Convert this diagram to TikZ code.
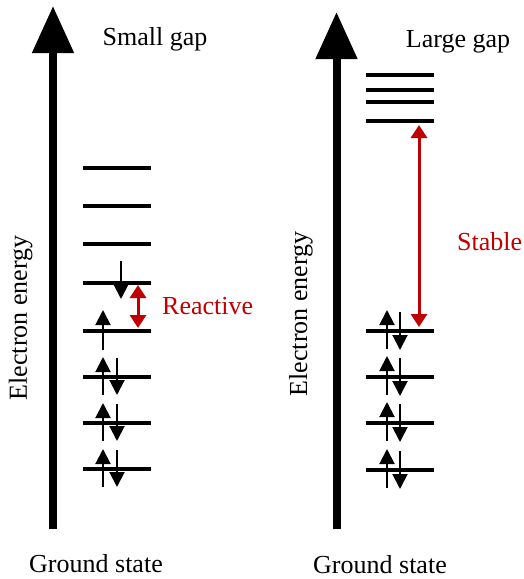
\documentclass[tikz,border=0pt]{standalone}
\usepackage{fontspec}
\setmainfont{Liberation Serif}
\usetikzlibrary{arrows.meta}
\definecolor{gapred}{HTML}{C00000}
\begin{document}
\begin{tikzpicture}[x=1pt,y=-1pt,
  level/.style={line width=3.5pt},
  axis/.style={line width=8pt,-{Triangle[width=40pt,length=47pt]}},
  spin/.style={line width=2pt,-{Triangle[width=15pt,length=15pt]}},
  gaparrow/.style={gapred,line width=3pt,
    {Triangle[width=16pt,length=13pt]}-{Triangle[width=16pt,length=13pt]}},
  lbl/.style={font=\fontsize{26}{30}\selectfont,inner sep=0pt}]
\useasboundingbox (0,0) rectangle (524,579);

% energy axes
\coordinate (axLb) at (53,529);
\coordinate (axLt) at (53,6);
\coordinate (axRb) at (336.5,529);
\coordinate (axRt) at (336.5,12);
\draw[axis] (axLb) -- (axLt);
\draw[axis] (axRb) -- (axRt);

% axis labels
\node[lbl,anchor=base] (titleL) at (155,45) {Small gap};
\node[lbl,anchor=base] (titleR) at (458,47) {Large gap};
\node[lbl,anchor=base] (groundL) at (96,572) {Ground state};
\node[lbl,anchor=base] (groundR) at (380,573.5) {Ground state};
\node[lbl,anchor=base,rotate=90] (energyL) at (27,318) {Electron energy};
\node[lbl,anchor=base,rotate=90] (energyR) at (307,314) {Electron energy};

% small-gap levels
\foreach \n/\y in {1/469,2/423,3/377,4/331,5/283,6/244,7/206,8/168}{
  \coordinate (sa\n) at (83,\y);
  \coordinate (sb\n) at (151,\y);
  \draw[level] (sa\n) -- (sb\n);
}
% large-gap levels
\foreach \n/\y in {1/470,2/423,3/377,4/331,5/121,6/102,7/90,8/75}{
  \coordinate (la\n) at (366,\y);
  \coordinate (lb\n) at (434,\y);
  \draw[level] (la\n) -- (lb\n);
}

% paired electrons
\foreach \y in {377,423,469}{
  \draw[spin] (103,\y+18) -- (103,\y-20);
  \draw[spin] (117,\y-19) -- (117,\y+18);
}
\foreach \y in {331,377,423,470}{
  \draw[spin] (387,\y+18) -- (387,\y-21);
  \draw[spin] (400,\y-19) -- (400,\y+19);
}
% unpaired electrons across the small gap
\draw[spin] (103,350) -- (103,310);
\draw[spin] (121,261) -- (121,299);

% gap arrows
\coordinate (gsTop) at (138,285);
\coordinate (gsBot) at (138,328);
\draw[gaparrow] (gsTop) -- (gsBot);
\node[lbl,anchor=base west,text=gapred] (reactive) at (162,314) {Reactive};

\coordinate (glTop) at (419,125);
\coordinate (glBot) at (419,327);
\draw[gaparrow] (glTop) -- (glBot);
\node[lbl,anchor=base west,text=gapred] (stable) at (457,250) {Stable};
\end{tikzpicture}
\end{document}
